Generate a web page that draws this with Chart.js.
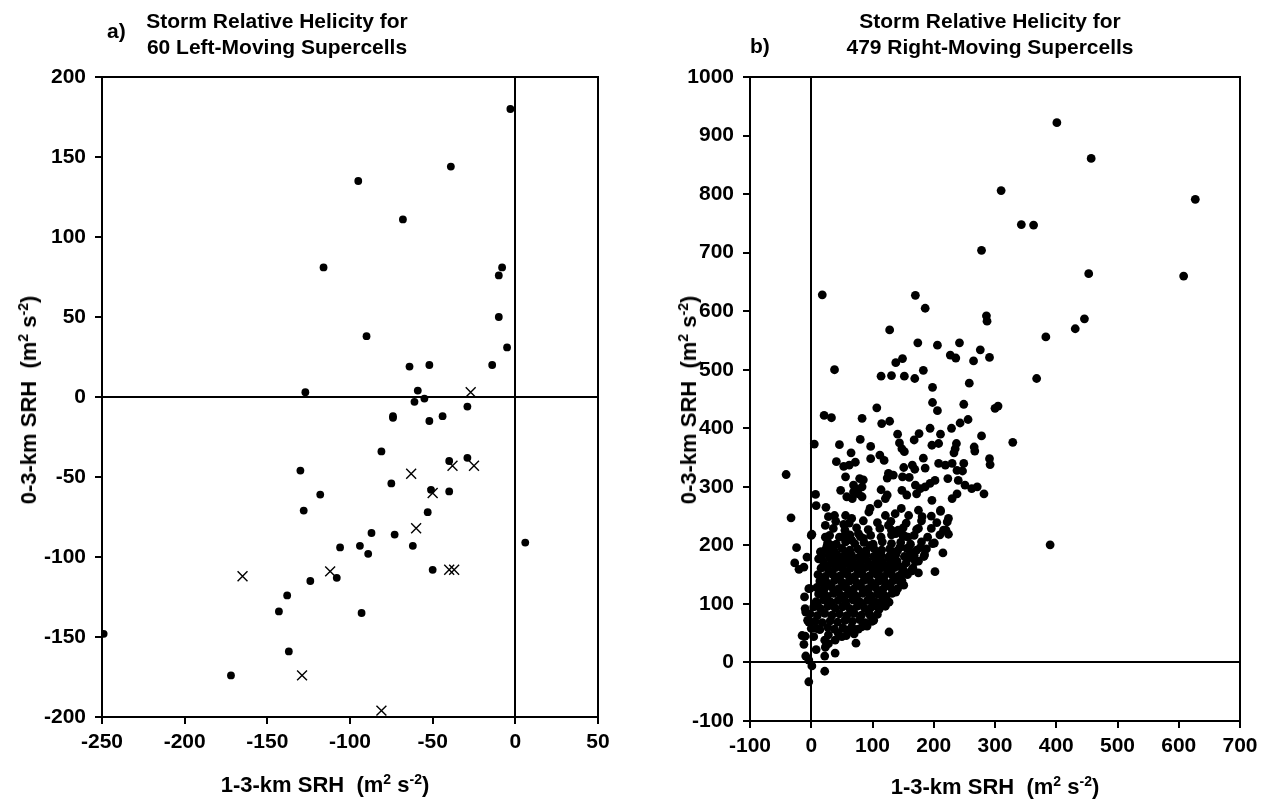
<!DOCTYPE html>
<html>
<head>
<meta charset="utf-8">
<script src="https://cdn.jsdelivr.net/npm/chart.js@4"></script>
<style>
  body { margin: 0; background: #fff; }
  #wrap { position: relative; width: 1272px; height: 810px; overflow: hidden; font-family: "Liberation Sans", Arial, sans-serif; font-weight: bold; color: #000; }
  canvas { position: absolute; top: 0; }
  .txt { position: absolute; font-size: 21px; line-height: 26px; white-space: nowrap; }
  .title { text-align: center; width: 360px; }
  .axis { font-size: 22px; transform: translate(-50%, -50%); }
  .axis.vert { transform: translate(-50%, -50%) rotate(-90deg); }
  .sup { font-size: 14px; position: relative; top: -8px; }
</style>
</head>
<body>
<div id="wrap">
  <canvas id="chart-a" width="636" height="810" style="left:0"></canvas>
  <canvas id="chart-b" width="636" height="810" style="left:636px"></canvas>

  <div class="txt" style="left:107px; top:18px">a)</div>
  <div class="txt title" style="left:97px; top:8px">Storm Relative Helicity for<br>60 Left-Moving Supercells</div>
  <div class="txt axis" style="left:325px; top:786px">1-3-km SRH&nbsp; (m<span class="sup">2</span> s<span class="sup">-2</span>)</div>
  <div class="txt axis vert" style="left:30px; top:400px">0-3-km SRH&nbsp; (m<span class="sup">2</span> s<span class="sup">-2</span>)</div>

  <div class="txt" style="left:750px; top:33px">b)</div>
  <div class="txt title" style="left:810px; top:8px">Storm Relative Helicity for<br>479 Right-Moving Supercells</div>
  <div class="txt axis" style="left:995px; top:788px">1-3-km SRH&nbsp; (m<span class="sup">2</span> s<span class="sup">-2</span>)</div>
  <div class="txt axis vert" style="left:690px; top:400px">0-3-km SRH&nbsp; (m<span class="sup">2</span> s<span class="sup">-2</span>)</div>
</div>

<script>
// axis ranges [min, max, step]
const leftXRange = [-250, 50, 50];
const leftYRange = [-200, 200, 50];
const rightXRange = [-100, 700, 100];
const rightYRange = [-100, 1000, 100];

// panel a: left-moving supercells, [1-3 km SRH, 0-3 km SRH]
const leftDots = [
  [-3,180],[-39,144],[-95,135],[-68,111],[-116,81],[-8,81],[-10,76],[-10,50],[-90,38],[-5,31],
  [-64,19],[-52,20],[-14,20],[-127,3],[-59,4],[-61,-3],[-55,-1],[-29,-6],[-74,-12],[-74,-13],
  [-52,-15],[-44,-12],[-81,-34],[-29,-38],[-40,-40],[-130,-46],[-75,-54],[-51,-58],[-40,-59],[-118,-61],
  [-128,-71],[-53,-72],[-87,-85],[-73,-86],[-106,-94],[-94,-93],[-89,-98],[-62,-93],[-50,-108],[-108,-113],
  [-124,-115],[-138,-124],[-143,-134],[-93,-135],[6,-91],[-249,-148],[-137,-159],[-172,-174]
];
const leftCrosses = [
  [-27,3],[-38,-43],[-25,-43],[-63,-48],[-50,-60],[-60,-82],[-112,-109],[-165,-112],
  [-40,-108],[-37,-108],[-129,-174],[-81,-196]
];

// panel b: right-moving supercells, outer points
const rightOuter = [
  [401,922],[457,861],[310,806],[627,791],[343,748],[363,747],[278,704],[453,664],[608,660],[18,628],
  [170,627],[186,605],[286,592],[287,583],[446,587],[431,570],[128,568],[383,556],[174,546],[206,542],
  [242,546],[276,534],[227,525],[236,520],[291,521],[265,515],[138,512],[149,519],[38,500],[114,489],
  [131,490],[152,489],[169,485],[183,499],[198,470],[258,477],[368,485],[305,438],[300,434],[329,376],
  [390,201]
];
// panel b: middle band
const rightMiddle = [
  [107,435],[198,444],[206,430],[249,441],[115,408],[128,412],[141,390],[176,391],[194,400],[211,390],
  [229,400],[243,409],[256,415],[278,387],[144,375],[148,365],[152,360],[168,380],[197,371],[208,374],
  [237,374],[235,365],[233,358],[266,368],[267,361],[291,348],[292,338],[112,354],[119,345],[183,349],
  [208,340],[219,337],[230,340],[249,340],[247,327],[238,328],[151,333],[165,337],[169,330],[186,332],
  [126,323],[134,320],[124,315],[149,317],[160,316],[223,314],[240,311],[202,311],[194,306],[170,303],
  [178,297],[186,300],[172,288],[114,295],[148,294],[156,286],[251,303],[262,297],[271,300],[282,288],
  [230,280],[238,288],[197,277],[121,280],[124,286],[109,271],[147,263],[175,260],[211,260],[224,246],
  [137,254],[159,251],[181,249],[121,251],
  [21,422],[33,418],[83,417],[5,373],[46,372],[80,381],[97,369],[65,358],[41,343],[53,335],
  [62,337],[72,342],[97,348],[56,317],[79,314],[85,312],[69,303],[72,297],[83,300],[77,288],
  [69,291],[48,294],[58,283],[67,280],[83,283],[7,287],[8,268],[-41,321],[-33,247],[24,265],
  [38,251],[56,251],[66,246],[96,263],[94,257],[28,249]
];
// panel b: edges of the dense cluster
const rightEdges = [
  [-24,196],[-7,180],[-27,170],[-20,159],[-12,163],[0,217],[16,189],[12,177],[-2,126],[-11,112],
  [-10,92],[-9,86],[16,123],[18,137],[-4,69],[0,58],[9,58],[-15,46],[-10,45],[4,44],
  [-12,31],[8,22],[23,26],[22,11],[39,16],[-9,11],[-4,4],[1,-6],[22,-15],[-4,-33],
  [73,33],[127,52],[96,81],[102,72],[83,61],[91,62],[61,55],[50,44],[39,38],[22,38],
  [28,32],[99,70],[77,57],[85,64],
  [23,234],[53,236],[1,219],[23,214],[26,200],[34,200],[15,189],[39,186],[50,180],[61,178],
  [55,217],[66,209],[77,220],[85,212],[96,200],[18,138],[-4,126],[15,120],[175,229],[222,240],
  [216,226],[224,219],[201,204],[178,196],[185,184],[162,189],[163,179],[175,173],[215,187],[202,155],
  [163,156],[175,153],[151,132],[148,140],[134,186],[129,183],[145,197],[138,220],[151,217],[158,214],
  [142,226],[126,234],[113,98],[110,120],[121,135],[134,140],[110,157],[121,163],[115,169],[129,166],
  [148,152],[164,157],[211,258],[196,250]
];
// panel b: dense core
const rightCore = [
  [28,47],[44,50],[57,46],[70,49],
  [14,56],[27,60],[38,57],[52,59],[66,61],[73,56],
  [-6,72],[6,70],[18,68],[31,71],[43,69],[55,72],[67,70],[79,73],[88,68],
  [-2,83],[10,80],[22,84],[34,81],[46,83],[58,80],[70,84],[82,81],[94,85],[108,82],
  [4,95],[15,92],[27,96],[39,93],[51,95],[63,92],[75,96],[87,93],[99,95],[111,91],[121,96],
  [8,104],[20,107],[32,103],[44,106],[56,104],[68,107],[80,103],[92,106],[104,104],[116,107],[127,103],
  [12,117],[24,114],[36,118],[48,115],[60,117],[72,114],[84,118],[96,115],[108,117],[120,114],[132,118],
  [9,128],[21,125],[33,129],[45,126],[57,128],[69,125],[81,129],[93,126],[105,128],[117,125],[129,129],[141,126],
  [14,139],[26,136],[38,140],[50,137],[62,139],[74,136],[86,140],[98,137],[110,139],[122,136],[134,140],[146,137],
  [11,150],[23,147],[35,151],[47,148],[59,150],[71,147],[83,151],[95,148],[107,150],[119,147],[131,151],[143,148],[157,150],
  [16,161],[28,158],[40,162],[52,159],[64,161],[76,158],[88,162],[100,159],[112,161],[124,158],[136,162],[150,159],[166,161],
  [20,172],[32,169],[44,173],[56,170],[68,172],[80,169],[92,173],[104,170],[116,172],[128,169],[140,173],[155,170],[170,172],
  [18,183],[30,180],[42,184],[54,181],[66,183],[78,180],[90,184],[102,181],[114,183],[126,180],[138,184],[152,181],[168,183],[184,181],
  [24,194],[37,191],[50,195],[63,192],[76,194],[89,191],[102,195],[115,192],[128,194],[141,191],[156,195],[172,192],[188,194],
  [27,205],[41,202],[56,206],[71,203],[86,205],[101,202],[116,206],[131,203],[146,205],[162,202],[180,206],[198,203],
  [30,217],[46,214],[63,218],[80,215],[97,217],[114,214],[131,218],[150,215],[168,217],[190,214],[210,218],
  [36,229],[55,226],[74,230],[93,227],[112,229],[131,226],[150,230],[172,227],[196,229],[220,226],
  [40,241],[62,238],[85,242],[108,239],[130,241],[155,238],[180,242],[205,239],
  [10,99],[33,100],[57,98],[81,100],[105,99],
  [26,111],[50,110],[74,112],[98,110],[122,111],
  [18,121],[42,122],[66,120],[90,122],[114,121],[138,120],
  [28,133],[52,132],[76,134],[100,132],[124,133],
  [20,143],[44,144],[68,142],[92,144],[116,143],[140,142],
  [30,155],[54,154],[78,156],[102,154],[126,155],
  [22,166],[46,165],[70,167],[94,165],[118,166],[144,164],
  [36,177],[62,176],[86,178],[110,176],[134,177],
  [30,188],[56,189],[82,187],[108,189],[134,188],[162,187]
];

const FONT = '"Liberation Sans", Arial, sans-serif';

// box round the plot area
const framePlugin = {
  id: 'frame',
  afterDatasetsDraw(chart) {
    const { ctx, chartArea: a } = chart;
    ctx.save();
    ctx.strokeStyle = '#000';
    ctx.lineWidth = 2;
    ctx.strokeRect(a.left, a.top, a.right - a.left, a.bottom - a.top);
    ctx.restore();
  }
};

function toPoints(pairs) {
  return pairs.map(p => ({ x: p[0], y: p[1] }));
}

function axis(range, size, isY) {
  return {
    type: 'linear',
    min: range[0],
    max: range[1],
    afterFit: scale => {
      if (isY) scale.width = size; else scale.height = size;
    },
    border: { display: true, color: '#000', width: 2 },
    grid: {
      drawOnChartArea: true,
      color: c => (c.tick && c.tick.value === 0) ? '#000' : 'rgba(0,0,0,0)',
      lineWidth: 2,
      tickColor: '#000',
      tickWidth: 2,
      tickLength: 7
    },
    ticks: {
      stepSize: range[2],
      color: '#000',
      padding: isY ? 9 : 6,
      font: { family: FONT, size: 21, weight: 'bold' },
      callback: v => String(v)
    }
  };
}

function makePanel(canvasId, datasets, xRange, yRange, yWidth, xHeight, padRight) {
  return new Chart(document.getElementById(canvasId), {
    type: 'scatter',
    data: { datasets },
    options: {
      responsive: false,
      animation: false,
      layout: { padding: { top: 77, right: padRight, left: 0, bottom: 0 } },
      plugins: { legend: { display: false }, tooltip: { enabled: false } },
      scales: {
        x: axis(xRange, xHeight, false),
        y: axis(yRange, yWidth, true)
      }
    },
    plugins: [framePlugin]
  });
}

const dotStyle = r => ({
  pointStyle: 'circle',
  pointRadius: r,
  pointBackgroundColor: '#000',
  pointBorderColor: '#000',
  pointBorderWidth: 0,
  showLine: false
});

makePanel('chart-a', [
  Object.assign({ label: 'left dots', data: toPoints(leftDots) }, dotStyle(3.9)),
  {
    label: 'left crosses',
    data: toPoints(leftCrosses),
    pointStyle: 'crossRot',
    pointRadius: 7,
    pointBorderColor: '#000',
    pointBorderWidth: 1.4,
    showLine: false
  }
], leftXRange, leftYRange, 102, 93, 38);

makePanel('chart-b', [
  Object.assign({
    label: 'right dots',
    data: toPoints(rightOuter.concat(rightMiddle, rightEdges, rightCore))
  }, dotStyle(4.4))
], rightXRange, rightYRange, 114, 89, 32);
</script>
</body>
</html>
